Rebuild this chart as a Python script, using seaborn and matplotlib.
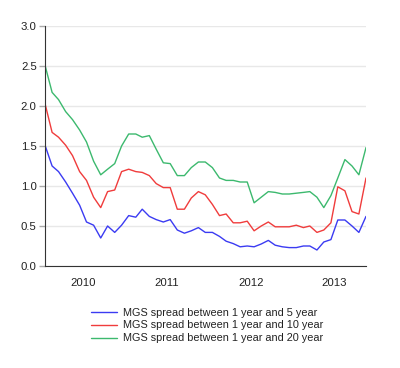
import numpy as np
import pandas as pd
import matplotlib
matplotlib.use("Agg")
import matplotlib.pyplot as plt
import seaborn as sns

# monthly readings, Jan 2010 - Nov 2013
months = pd.date_range("2010-01-01", "2013-11-01", freq="MS")

spread_5y = [1.51, 1.25, 1.18, 1.05, 0.91, 0.76, 0.55, 0.51, 0.35, 0.50, 0.42, 0.51,
             0.63, 0.61, 0.71, 0.62, 0.58, 0.55, 0.58, 0.45, 0.41, 0.44, 0.48, 0.42,
             0.42, 0.37, 0.31, 0.28, 0.24, 0.25, 0.24, 0.275, 0.32, 0.26, 0.24, 0.23,
             0.23, 0.25, 0.25, 0.20, 0.30, 0.33, 0.575, 0.575, 0.50, 0.42, 0.62]
spread_10y = [2.03, 1.67, 1.61, 1.51, 1.38, 1.18, 1.07, 0.86, 0.73, 0.93, 0.95, 1.18,
              1.21, 1.18, 1.17, 1.13, 1.03, 0.98, 0.98, 0.71, 0.71, 0.85, 0.93, 0.89,
              0.77, 0.63, 0.65, 0.54, 0.54, 0.56, 0.44, 0.50, 0.55, 0.49, 0.49, 0.49,
              0.51, 0.48, 0.50, 0.42, 0.45, 0.54, 0.99, 0.94, 0.68, 0.65, 1.10]
spread_20y = [2.51, 2.17, 2.08, 1.93, 1.83, 1.70, 1.55, 1.31, 1.14, 1.21, 1.28, 1.50,
              1.65, 1.65, 1.61, 1.63, 1.46, 1.29, 1.28, 1.13, 1.13, 1.23, 1.30, 1.30,
              1.23, 1.10, 1.07, 1.07, 1.05, 1.05, 0.79, 0.86, 0.93, 0.92, 0.90, 0.90,
              0.91, 0.92, 0.93, 0.86, 0.73, 0.88, 1.10, 1.33, 1.25, 1.14, 1.48]

labels = ["MGS spread between 1 year and 5 year",
          "MGS spread between 1 year and 10 year",
          "MGS spread between 1 year and 20 year"]
colors = ["#3b3bf2", "#f03c3c", "#3cb96e"]
years = [2010, 2011, 2012, 2013]

df = pd.DataFrame({"date": months, labels[0]: spread_5y,
                   labels[1]: spread_10y, labels[2]: spread_20y})
long = df.melt(id_vars="date", var_name="series", value_name="spread")

sns.set_style("white")
plt.rcParams["font.family"] = ["Liberation Sans", "DejaVu Sans"]

fig = plt.figure(figsize=(4.0, 3.68), dpi=100)
ax = fig.add_axes([45 / 400, 1 - 266 / 368, 321 / 400, 240 / 368])

sns.lineplot(data=long, x="date", y="spread", hue="series", hue_order=labels,
             palette=colors, lw=1.0, ax=ax, legend=True)

ax.set_ylim(0, 3.0)
ax.set_xlim(months[0], months[-1])
ax.set_yticks(np.arange(0, 3.01, 0.5))
ax.set_yticklabels([f"{v:.1f}" for v in np.arange(0, 3.01, 0.5)])
ax.yaxis.grid(True, color="#e8e8e8", lw=1)
ax.set_axisbelow(True)

# year boundaries as major ticks, year names between them
ax.set_xticks([pd.Timestamp(f"{y}-01-01") for y in years])
ax.set_xticklabels([])
ax.set_xticks([pd.Timestamp(f"{y}-06-16") for y in years], minor=True)
ax.set_xticklabels([str(y) for y in years], minor=True)
ax.tick_params(axis="x", which="major", length=5, color="#aaaaaa", width=1)
ax.tick_params(axis="x", which="minor", length=0, pad=9, labelsize=8.2, labelcolor="#222222")
ax.tick_params(axis="y", length=4, color="#aaaaaa", width=1, pad=2,
               labelsize=8.2, labelcolor="#222222", left=True)

for s in ["top", "right"]:
    ax.spines[s].set_visible(False)
ax.spines["left"].set_color("#333333")
ax.spines["bottom"].set_color("#333333")
ax.set_xlabel("")
ax.set_ylabel("")

handles, lbls = ax.get_legend_handles_labels()
leg = ax.legend(handles, lbls, loc="upper center", bbox_to_anchor=(0.505, -0.155),
                frameon=False, fontsize=7.8, handlelength=2.4, handletextpad=0.5,
                labelspacing=0.27, borderaxespad=0)
for t in leg.get_texts():
    t.set_color("#222222")

fig.savefig("out.png", dpi=100)
